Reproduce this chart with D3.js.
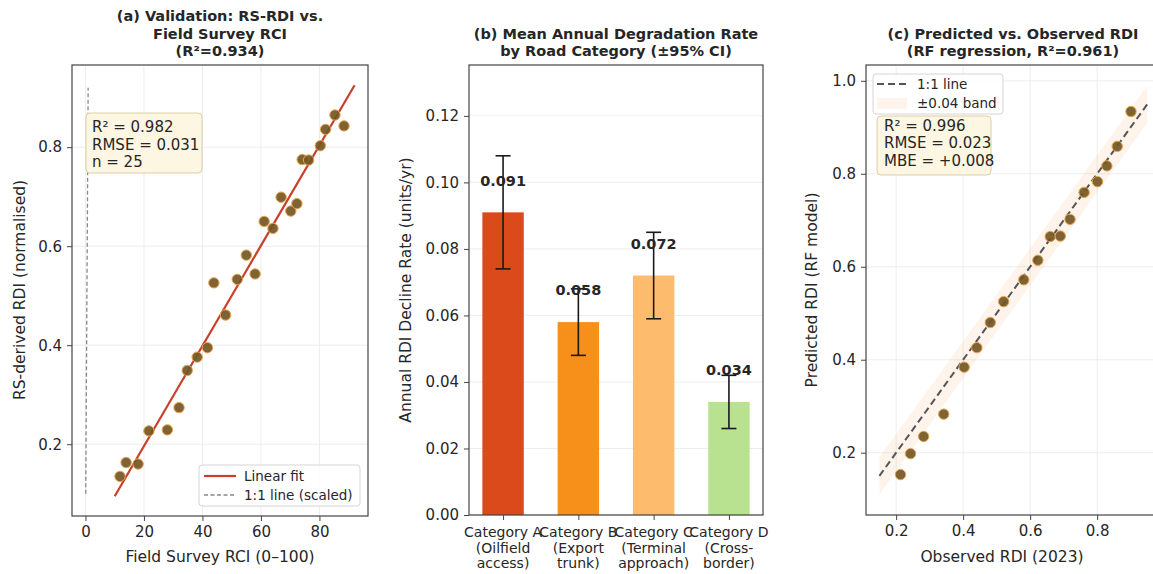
<!DOCTYPE html>
<html><head><meta charset="utf-8">
<script src="https://cdn.jsdelivr.net/npm/d3@7"></script>
<style>
body{margin:0;background:#fff;}
svg text{font-family:"DejaVu Sans",sans-serif;fill:#262626;}
</style></head>
<body><svg id="c" width="1153" height="574"></svg>
<script>
// ---------- Panel (a) data ----------
const fieldRCI = [11.8,13.9,18.0,21.7,28.0,32.0,34.8,38.2,41.7,43.9,47.9,51.9,55.0,58.0,61.1,64.1,66.9,70.2,72.3,74.1,76.3,80.3,82.1,85.3,88.4];
const rsRDI    = [0.135,0.163,0.160,0.227,0.229,0.274,0.349,0.376,0.395,0.526,0.461,0.533,0.582,0.544,0.650,0.636,0.699,0.671,0.686,0.775,0.774,0.803,0.836,0.865,0.843];
const fitX = [10, 92];
const fitY = [0.095, 0.925];
const oneToOneAX = [0.1, 0.92];
const oneToOneAY = [0.1, 0.92];
const statsA = ["R² = 0.982", "RMSE = 0.031", "n = 25"];
const titleA = ["(a) Validation: RS-RDI vs.", "Field Survey RCI", "(R²=0.934)"];
const xTicksA = [0,20,40,60,80];
const yTicksA = [0.2,0.4,0.6,0.8];

// ---------- Panel (b) data ----------
const categories = [["Category A","(Oilfield","access)"],["Category B","(Export","trunk)"],["Category C","(Terminal","approach)"],["Category D","(Cross-","border)"]];
const rates = [0.091, 0.058, 0.072, 0.034];
const ci95  = [0.017, 0.010, 0.013, 0.008];
const rateLabels = ["0.091","0.058","0.072","0.034"];
const barColors = ["#d8400e","#f7890f","#fdb865","#b5e08a"];
const titleB = ["(b) Mean Annual Degradation Rate", "by Road Category (±95% CI)"];
const yTicksB = [0,0.02,0.04,0.06,0.08,0.10,0.12];

// ---------- Panel (c) data ----------
const observed  = [0.213,0.243,0.282,0.342,0.403,0.441,0.481,0.521,0.581,0.623,0.660,0.690,0.719,0.761,0.801,0.829,0.860,0.901];
const predicted = [0.153,0.198,0.235,0.283,0.384,0.426,0.480,0.525,0.572,0.614,0.665,0.666,0.702,0.760,0.783,0.817,0.859,0.934];
const lineC = [0.15, 0.95];
const bandHalf = 0.04;
const statsC = ["R² = 0.996", "RMSE = 0.023", "MBE = +0.008"];
const titleC = ["(c) Predicted vs. Observed RDI", "(RF regression, R²=0.961)"];
const xTicksC = [0.2,0.4,0.6,0.8];
const yTicksC = [0.2,0.4,0.6,0.8,1.0];

const svg = d3.select("#c");
const TICK_FS = 15, LABEL_FS = 15.5, TITLE_FS = 14.5;

function frame(g, x, y, xt, yt, gridX, gridY){
  const [x0,x1] = x.range(), [y0,y1] = y.range();
  if (gridY) g.append("g").selectAll("line").data(yt).join("line")
      .attr("x1",x0).attr("x2",x1).attr("y1",d=>y(d)).attr("y2",d=>y(d))
      .attr("stroke","#e8e8e8").attr("stroke-width",0.8);
  if (gridX) g.append("g").selectAll("line").data(xt).join("line")
      .attr("y1",y0).attr("y2",y1).attr("x1",d=>x(d)).attr("x2",d=>x(d))
      .attr("stroke","#e8e8e8").attr("stroke-width",0.8);
}
function axes(g, x, y, xt, yt, xfmt, yfmt){
  const [x0,x1] = x.range(), [y0,y1] = y.range();
  const ax = g.append("g").attr("transform",`translate(0,${y0})`)
    .call(d3.axisBottom(x).tickValues(xt).tickFormat(xfmt).tickSize(5).tickPadding(5));
  const ay = g.append("g").attr("transform",`translate(${x0},0)`)
    .call(d3.axisLeft(y).tickValues(yt).tickFormat(yfmt).tickSize(5).tickPadding(5));
  [ax,ay].forEach(a=>{
    a.select(".domain").remove();
    a.selectAll("line").attr("stroke","#444").attr("stroke-width",1);
    a.selectAll("text").attr("font-size",TICK_FS).attr("fill","#333").style("font-family","DejaVu Sans");
  });
  g.append("rect").attr("x",x0).attr("y",y1).attr("width",x1-x0).attr("height",y0-y1)
    .attr("fill","none").attr("stroke","#444").attr("stroke-width",1.2);
  return ax;
}
function title(lines, cx){
  const n = lines.length;
  lines.forEach((t,i)=>{
    svg.append("text").attr("x",cx).attr("y",56 - (n-1-i)*17.4)
      .attr("text-anchor","middle").attr("font-size",TITLE_FS).attr("font-weight","bold")
      .attr("fill","#111").text(t);
  });
}
function ylabel(text, cx, cy){
  svg.append("text").attr("transform",`translate(${cx},${cy}) rotate(-90)`)
    .attr("text-anchor","middle").attr("dominant-baseline","central")
    .attr("font-size",LABEL_FS).attr("fill","#333").text(text);
}
function xlabel(text, cx, cy){
  svg.append("text").attr("x",cx).attr("y",cy).attr("text-anchor","middle")
    .attr("font-size",LABEL_FS).attr("fill","#333").text(text);
}
function statBox(lines, x, y, w, h, tx, ty0){
  svg.append("rect").attr("x",x).attr("y",y).attr("width",w).attr("height",h).attr("rx",4)
    .attr("fill","#fdf6e2").attr("stroke","#dccfa6").attr("stroke-width",1);
  lines.forEach((t,i)=>svg.append("text").attr("x",tx).attr("y",ty0+i*17.5)
    .attr("font-size",15).attr("fill","#333").text(t));
}
function dots(g, xs, ys, x, y){
  g.append("g").selectAll("circle").data(xs).join("circle")
    .attr("cx",(d)=>x(d)).attr("cy",(d,i)=>y(ys[i])).attr("r",5.2)
    .attr("fill","#735624").attr("fill-opacity",0.92)
    .attr("stroke","#eaa34e").attr("stroke-width",1);
}

// ================= Panel (a) =================
{
  const x = d3.scaleLinear().domain([-4.6, 96.6]).range([72, 368]);
  const y = d3.scaleLinear().domain([0.055, 0.966]).range([516, 65]);
  const g = svg.append("g");
  frame(g,x,y,xTicksA,yTicksA,true,true);
  g.append("line").attr("x1",x(oneToOneAX[0])).attr("y1",y(oneToOneAY[0]))
    .attr("x2",x(oneToOneAX[1])).attr("y2",y(oneToOneAY[1]))
    .attr("stroke","#888").attr("stroke-width",1.3).attr("stroke-dasharray","4,2.5");
  g.append("line").attr("x1",x(fitX[0])).attr("y1",y(fitY[0]))
    .attr("x2",x(fitX[1])).attr("y2",y(fitY[1]))
    .attr("stroke","#c8402a").attr("stroke-width",2.2);
  dots(g, fieldRCI, rsRDI, x, y);
  axes(g,x,y,xTicksA,yTicksA,d3.format("d"),d3.format(".1f"));
  statBox(statsA, 86, 113, 116, 60, 92, 132);
  // legend
  svg.append("rect").attr("x",199).attr("y",465).attr("width",161).attr("height",41).attr("rx",3)
    .attr("fill","#fff").attr("fill-opacity",0.85).attr("stroke","#d5d5d5");
  svg.append("line").attr("x1",204).attr("x2",236).attr("y1",476).attr("y2",476)
    .attr("stroke","#c8402a").attr("stroke-width",2.2);
  svg.append("line").attr("x1",204).attr("x2",236).attr("y1",495).attr("y2",495)
    .attr("stroke","#888").attr("stroke-width",1.3).attr("stroke-dasharray","4,2.5");
  svg.append("text").attr("x",244).attr("y",481).attr("font-size",13.5).attr("fill","#333").text("Linear fit");
  svg.append("text").attr("x",244).attr("y",500).attr("font-size",13.5).attr("fill","#333").text("1:1 line (scaled)");
  title(titleA, 220);
  ylabel("RS-derived RDI (normalised)", 20, 290);
  xlabel("Field Survey RCI (0–100)", 220, 562);
}

// ================= Panel (b) =================
{
  const idx = categories.map((d,i)=>i);
  const bw = 0.55;
  const x = d3.scaleLinear().domain([-0.4525, 3.4525]).range([469, 763]);
  const y = d3.scaleLinear().domain([0, 0.1353]).range([515, 65]);
  const g = svg.append("g");
  frame(g,x,y,idx,yTicksB,false,true);
  g.append("g").selectAll("rect").data(rates).join("rect")
    .attr("x",(d,i)=>x(i-bw/2)).attr("width",x(bw)-x(0))
    .attr("y",d=>y(d)).attr("height",d=>y(0)-y(d))
    .attr("fill",(d,i)=>barColors[i]).attr("fill-opacity",0.95);
  const eb = g.append("g").attr("stroke","#1a1a1a").attr("stroke-width",1.6);
  rates.forEach((v,i)=>{
    const cx = x(i);
    eb.append("line").attr("x1",cx).attr("x2",cx).attr("y1",y(v-ci95[i])).attr("y2",y(v+ci95[i]));
    eb.append("line").attr("x1",cx-7.5).attr("x2",cx+7.5).attr("y1",y(v-ci95[i])).attr("y2",y(v-ci95[i]));
    eb.append("line").attr("x1",cx-7.5).attr("x2",cx+7.5).attr("y1",y(v+ci95[i])).attr("y2",y(v+ci95[i]));
  });
  g.append("g").selectAll("text").data(rates).join("text")
    .attr("x",(d,i)=>x(i)).attr("y",d=>y(d+0.008)).attr("text-anchor","middle")
    .attr("font-size",14.5).attr("font-weight","bold").attr("fill","#111")
    .text((d,i)=>rateLabels[i]);
  axes(g,x,y,idx,yTicksB,()=>"",d3.format(".2f"));
  categories.forEach((lines,i)=>{
    lines.forEach((t,j)=>svg.append("text").attr("x",x(i)).attr("y",537+j*15.5)
      .attr("text-anchor","middle").attr("font-size",14).attr("fill","#333").text(t));
  });
  title(titleB, 616);
  ylabel("Annual RDI Decline Rate (units/yr)", 406, 290);
}

// ================= Panel (c) =================
{
  const x = d3.scaleLinear().domain([0.11, 0.99]).range([866, 1160.8]);
  const y = d3.scaleLinear().domain([0.066, 1.034]).range([515, 65]);
  const g = svg.append("g");
  frame(g,x,y,xTicksC,yTicksC,true,true);
  const area = d3.area().x(d=>x(d)).y0(d=>y(d-bandHalf)).y1(d=>y(d+bandHalf));
  g.append("path").datum(lineC).attr("d",area).attr("fill","#f6b27a").attr("fill-opacity",0.15);
  g.append("line").attr("x1",x(lineC[0])).attr("y1",y(lineC[0])).attr("x2",x(lineC[1])).attr("y2",y(lineC[1]))
    .attr("stroke","#555").attr("stroke-width",2).attr("stroke-dasharray","7,4");
  dots(g, observed, predicted, x, y);
  axes(g,x,y,xTicksC,yTicksC,d3.format(".1f"),d3.format(".1f"));
  svg.append("rect").attr("x",873).attr("y",74).attr("width",130).attr("height",40).attr("rx",3)
    .attr("fill","#fff").attr("fill-opacity",0.85).attr("stroke","#d5d5d5");
  svg.append("line").attr("x1",877).attr("x2",907).attr("y1",84).attr("y2",84)
    .attr("stroke","#555").attr("stroke-width",2).attr("stroke-dasharray","7,4");
  svg.append("rect").attr("x",877).attr("y",98).attr("width",30).attr("height",11)
    .attr("fill","#f6b27a").attr("fill-opacity",0.15);
  svg.append("text").attr("x",917).attr("y",89).attr("font-size",13.5).attr("fill","#333").text("1:1 line");
  svg.append("text").attr("x",917).attr("y",108).attr("font-size",13.5).attr("fill","#333").text("±0.04 band");
  statBox(statsC, 877, 116, 114, 59, 884, 130.5);
  title(titleC, 1013);
  ylabel("Predicted RDI (RF model)", 812, 290);
  xlabel("Observed RDI (2023)", 1002, 562);
}
</script></body></html>
